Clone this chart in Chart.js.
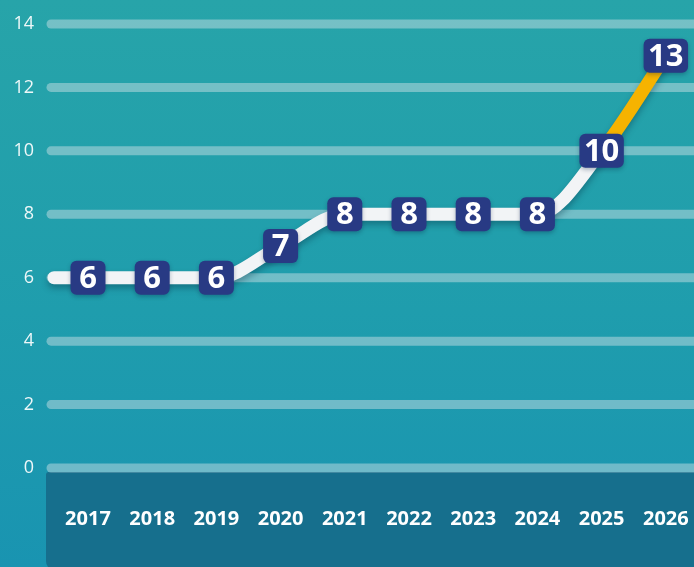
<!DOCTYPE html>
<html>
<head>
<meta charset="utf-8">
<script src="https://cdn.jsdelivr.net/npm/chart.js@4.4.1/dist/chart.umd.min.js"></script>
<style>
  html, body { margin: 0; padding: 0; }
  body {
    width: 694px; height: 567px; overflow: hidden;
    background: linear-gradient(180deg, #27a4a9 0%, #1f9dad 55%, #1994b1 100%);
  }
  #wrap { position: relative; width: 694px; height: 567px; }
</style>
</head>
<body>
<div id="wrap"><canvas id="chart"></canvas></div>
<script>
const years = ["2017", "2018", "2019", "2020", "2021", "2022", "2023", "2024", "2025", "2026"]
const values = [6, 6, 6, 7, 8, 8, 8, 8, 10, 13]
const yTicks = [0, 2, 4, 6, 8, 10, 12, 14]

const FONT = "'Open Sans', 'DejaVu Sans', sans-serif"

// dark band behind the year labels
const bandPlugin = {
  id: "band",
  beforeDraw(chart) {
    const { ctx, chartArea, width, height } = chart
    ctx.save()
    ctx.fillStyle = "#166f8d"
    ctx.beginPath()
    ctx.roundRect(chartArea.left, chartArea.bottom + 4, width - chartArea.left + 20, height - chartArea.bottom, [3, 0, 0, 10])
    ctx.fill()
    ctx.restore()
  }
}

// thick rounded gridlines
const gridPlugin = {
  id: "roundGrid",
  beforeDatasetsDraw(chart) {
    const { ctx, chartArea, width } = chart
    const y = chart.scales.y
    ctx.save()
    ctx.strokeStyle = "rgba(215, 228, 232, 0.45)"
    ctx.lineWidth = 9
    ctx.lineCap = "round"
    yTicks.forEach(t => {
      const py = y.getPixelForValue(t)
      ctx.beginPath()
      ctx.moveTo(chartArea.left + 5, py)
      ctx.lineTo(width + 10, py)
      ctx.stroke()
    })
    ctx.restore()
  }
}

const shadow = (ctx) => {
  ctx.shadowColor = "rgba(0, 40, 60, 0.35)"
  ctx.shadowBlur = 6
  ctx.shadowOffsetY = 4
}

// line shadow + lead-in segment from the left edge
const linePlugin = {
  id: "lineStyle",
  beforeDatasetDraw(chart) {
    const { ctx, chartArea } = chart
    const first = chart.getDatasetMeta(0).data[0]
    ctx.save()
    shadow(ctx)
    ctx.strokeStyle = "#f2f4f6"
    ctx.lineWidth = 13
    ctx.lineCap = "round"
    ctx.beginPath()
    ctx.moveTo(chartArea.left + 8, first.y)
    ctx.lineTo(first.x, first.y)
    ctx.stroke()
  },
  afterDatasetDraw(chart) {
    chart.ctx.restore()
  }
}

// navy value boxes
const boxPlugin = {
  id: "boxes",
  afterDatasetsDraw(chart) {
    const { ctx } = chart
    const pts = chart.getDatasetMeta(0).data
    ctx.save()
    ctx.font = `bold 31px ${FONT}`
    ctx.textAlign = "center"
    ctx.textBaseline = "middle"
    pts.forEach((p, i) => {
      const txt = String(values[i])
      const w = Math.max(35, ctx.measureText(txt).width + 9)
      const h = 34
      ctx.save()
      ctx.shadowColor = "rgba(0, 30, 60, 0.3)"
      ctx.shadowBlur = 4
      ctx.shadowOffsetY = 2
      ctx.fillStyle = "#283a84"
      ctx.beginPath()
      ctx.roundRect(p.x - w / 2, p.y - h / 2, w, h, 6)
      ctx.fill()
      ctx.restore()
      ctx.fillStyle = "#ffffff"
      ctx.fillText(txt, p.x, p.y + 1)
    })
    ctx.restore()
  }
}

const chart = new Chart(document.getElementById("chart"), {
  type: "line",
  data: {
    datasets: [{
      data: values.map((v, i) => ({ x: i, y: v })),
      borderColor: "#f2f4f6",
      borderWidth: 13,
      borderCapStyle: "round",
      borderJoinStyle: "round",
      cubicInterpolationMode: "monotone",
      pointRadius: 0,
      pointHoverRadius: 0,
      fill: false,
      segment: {
        borderColor: c => c.p1DataIndex === values.length - 1 ? "#f6b300" : undefined
      }
    }]
  },
  options: {
    responsive: true,
    maintainAspectRatio: false,
    animation: false,
    layout: { autoPadding: false, padding: { top: 24, right: 0, left: 0, bottom: 0 } },
    plugins: {
      legend: { display: false },
      tooltip: { enabled: false }
    },
    scales: {
      x: {
        type: "linear",
        min: -0.654,
        max: 9.439,
        afterBuildTicks: s => { s.ticks = years.map((_, i) => ({ value: i })) },
        afterFit: s => {
          s.height = 99
          s.paddingLeft = 0
          s.paddingRight = 0
        },
        grid: { display: false, drawTicks: false },
        border: { display: false },
        ticks: {
          autoSkip: false,
          maxRotation: 0,
          padding: 39,
          color: "#ffffff",
          font: { family: FONT, size: 20, weight: "bold" },
          callback: v => years[v]
        }
      },
      y: {
        min: 0,
        max: 14,
        afterBuildTicks: s => { s.ticks = yTicks.map(v => ({ value: v })) },
        afterFit: s => { s.width = 46 },
        grid: { display: false, drawTicks: false },
        border: { display: false },
        ticks: {
          padding: 12,
          color: "rgba(255,255,255,0.92)",
          font: { family: FONT, size: 18 }
        }
      }
    }
  },
  plugins: [bandPlugin, gridPlugin, linePlugin, boxPlugin]
})
</script>
</body>
</html>
